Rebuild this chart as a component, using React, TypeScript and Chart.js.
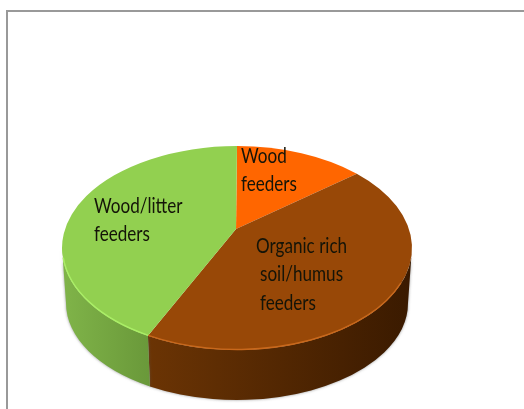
import React, { useEffect, useRef } from "react";
import { Chart, registerables } from "chart.js";

Chart.register(...registerables);

const categories = ["Wood feeders", "Organic rich soil/humus feeders", "Wood/litter feeders"];
const shares = [12, 46.5, 41.5];
const topColors = ["#ff6600", "#984807", "#92d050"];
const wallStart = ["#a04a00", "#6b3404", "#80b449"];
const wallEnd = ["#8a3f00", "#3a1a00", "#6a993a"];
const rimColors = ["#ff8a30", "#c8681c", "#aaee66"];
const labelLines = [["Wood", "feeders"], ["Organic rich", "soil/humus", "feeders"], ["Wood/litter", "feeders"]];

const TILT = 102 / 175;
const OFFSET_Y = 73;
const HUB_LIFT = 19;
const DEPTH = 55;
const BASE_X = 171 / 175;
const BASE_Y = 97 / 102;
const labelBoxes = [
  [[241, 156], [241, 184]],
  [[256, 246], [260, 274], [260, 303]],
  [[94, 206], [94, 234]],
];

const pie3d = {
  id: "pie3d",
  beforeDatasetsDraw(chart: any) {
    const ctx = chart.ctx;
    const arcs = chart.getDatasetMeta(0).data;
    const a0 = arcs[0];
    const cx = a0.x;
    const cy = a0.y + OFFSET_Y;
    const rx = a0.outerRadius;
    const ry = rx * TILT;
    const bx = rx * BASE_X;
    const by = ry * BASE_Y;
    const by0 = cy + DEPTH;

    // side walls, only the part facing the viewer
    [1, 2, 0].forEach((i) => {
      const el = arcs[i];
      const s = Math.max(el.startAngle, 0);
      const e = Math.min(el.endAngle, Math.PI);
      if (e <= s) return;
      ctx.save();
      const xa = cx + rx * Math.cos(s);
      const xb = cx + rx * Math.cos(e);
      const g = ctx.createLinearGradient(Math.min(xa, xb), 0, Math.max(xa, xb), 0);
      g.addColorStop(0, wallStart[i]);
      g.addColorStop(1, wallEnd[i]);
      ctx.fillStyle = g;
      ctx.shadowColor = "rgba(90,90,90,0.65)";
      ctx.shadowBlur = 3;
      ctx.beginPath();
      ctx.ellipse(cx, cy, rx, ry, 0, s, e, false);
      ctx.ellipse(cx, by0, bx, by, 0, e, s, true);
      ctx.closePath();
      ctx.fill();
      ctx.restore();
    });

    // top faces, slices meet at a hub lifted by the perspective
    arcs.forEach((el: any) => {
      ctx.save();
      ctx.fillStyle = el.options.backgroundColor;
      ctx.beginPath();
      ctx.moveTo(cx - 1, cy - HUB_LIFT);
      ctx.ellipse(cx, cy, rx, ry, 0, el.startAngle, el.endAngle, false);
      ctx.closePath();
      ctx.fill();
      ctx.restore();
    });

    // bevel highlight along the front rim
    arcs.forEach((el: any, i: number) => {
      const s = Math.max(el.startAngle, 0.35);
      const e = Math.min(el.endAngle, Math.PI * 0.97);
      if (e <= s) return;
      ctx.save();
      ctx.strokeStyle = rimColors[i];
      ctx.lineWidth = 1.4;
      ctx.beginPath();
      ctx.ellipse(cx, cy, rx - 0.5, ry - 0.5, 0, s, e, false);
      ctx.stroke();
      ctx.restore();
    });
    return false;
  },
  afterDraw(chart: any) {
    const ctx = chart.ctx;
    ctx.save();
    ctx.font = '18px Lato, "Noto Sans", sans-serif';
    ctx.textBaseline = "middle";
    ctx.textAlign = "left";
    ctx.fillStyle = "#141408";
    ctx.filter = "blur(0.4px)";
    labelLines.forEach((lines, i) => {
      lines.forEach((t, j) => {
        const [x, y] = labelBoxes[i][j];
        ctx.save();
        ctx.translate(x, y);
        ctx.scale(0.95, 1.2);
        ctx.fillText(t, 0, 0);
        ctx.restore();
      });
    });
    ctx.restore();
  },
};

export default function App() {
  const ref = useRef<HTMLCanvasElement>(null);
  useEffect(() => {
    const chart = new Chart(ref.current as HTMLCanvasElement, {
      type: "pie",
      data: {
        labels: categories,
        datasets: [{ data: shares, backgroundColor: topColors, borderWidth: 0 }],
      },
      options: {
        responsive: false,
        animation: false,
        layout: { padding: { left: 62, right: 112, top: 0, bottom: 59 } },
        plugins: { legend: { display: false }, tooltip: { enabled: false } },
      },
      plugins: [pie3d],
    } as any);
    return () => chart.destroy();
  }, []);
  return (
    <div style={{ position: "fixed", left: 0, top: 0, width: 524, height: 409, background: "#fff", overflow: "hidden" }}>
      <div style={{ position: "absolute", left: 6, top: 10, right: -4, bottom: -4, borderTop: "2px solid #999", borderLeft: "2px solid #999" }} />
      <canvas ref={ref} width={524} height={409} style={{ position: "absolute", left: 0, top: 0, display: "block" }} />
    </div>
  );
}
